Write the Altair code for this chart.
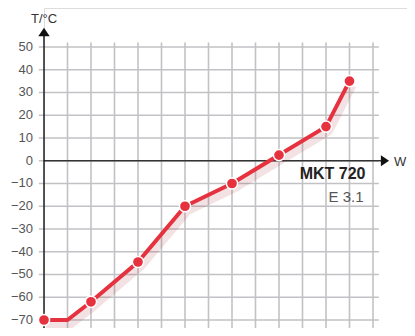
import altair as alt
import pandas as pd

# data
x_vals = [0, 1, 2, 4, 6, 8, 10, 12, 13]
t_vals = [-70, -70, -62, -44.5, -20, -10, 2.5, 15, 35]
has_marker = [True, False, True, True, True, True, True, True, True]
y_ticks = [50, 40, 30, 20, 10, 0, -10, -20, -30, -40, -50, -60, -70]
x_grid = list(range(1, 15))
model = "MKT 720"
edition = "E 3.1"
y_title = "T/°C"
x_title = "W"

xs = alt.Scale(domain=[0, 15.447], nice=False, zero=False)
YB, YT = -73.52, 67.14
ys = alt.Scale(domain=[YB, YT], nice=False, zero=False)
W, H = 363, 320
FONT = "Liberation Sans"

df = pd.DataFrame({"x": x_vals, "t": t_vals, "m": has_marker})
mk = df[df["m"]]

vgrid = pd.DataFrame({"x": x_grid, "y0": YB, "y1": 52})
hgrid = pd.DataFrame({"y": y_ticks, "x0": -0.22, "x1": 14.25})

vg = alt.Chart(vgrid).mark_rule(color="#c2c2c6", strokeWidth=1.6).encode(
    x=alt.X("x:Q", scale=xs, axis=None),
    y=alt.Y("y0:Q", scale=ys, axis=None),
    y2="y1:Q",
)
hg = alt.Chart(hgrid).mark_rule(color="#c2c2c6", strokeWidth=1.3).encode(
    y=alt.Y("y:Q", scale=ys, axis=None),
    x=alt.X("x0:Q", scale=xs, axis=None),
    x2="x1:Q",
)

yaxis_df = pd.DataFrame({"x": [0], "y0": [YB], "y1": [56]})
yaxis = alt.Chart(yaxis_df).mark_rule(color="#111", strokeWidth=1.4).encode(
    x=alt.X("x:Q", scale=xs, axis=None),
    y=alt.Y("y0:Q", scale=ys, axis=None),
    y2="y1:Q",
)
xaxis_df = pd.DataFrame({"y": [0], "x0": [0], "x1": [14.4]})
xaxis = alt.Chart(xaxis_df).mark_rule(color="#333", strokeWidth=1.3).encode(
    y=alt.Y("y:Q", scale=ys, axis=None),
    x=alt.X("x0:Q", scale=xs, axis=None),
    x2="x1:Q",
)

arrow_up = alt.Chart(pd.DataFrame({"x": [0], "y": [56.6]})).mark_point(
    shape="M-1,0.75L0,-0.75L1,0.75Z", filled=True, color="#111", opacity=1, size=130
).encode(x=alt.X("x:Q", scale=xs, axis=None), y=alt.Y("y:Q", scale=ys, axis=None))
arrow_right = alt.Chart(pd.DataFrame({"x": [14.51], "y": [0]})).mark_point(
    shape="M-0.75,-1L0.75,0L-0.75,1Z", filled=True, color="#111", opacity=1, size=120
).encode(x=alt.X("x:Q", scale=xs, axis=None), y=alt.Y("y:Q", scale=ys, axis=None))

yticks_df = pd.DataFrame({"y": y_ticks, "x": 0})
ylabels = alt.Chart(yticks_df).mark_text(
    align="right", baseline="middle", dx=-11, font=FONT, fontSize=13, color="#555"
).encode(
    x=alt.X("x:Q", scale=xs, axis=None),
    y=alt.Y("y:Q", scale=ys, axis=None),
    text=alt.Text("y:Q"),
)

texts = pd.DataFrame({
    "x": [0, 14.89, 13.68, 13.6],
    "y": [60.4, -2.2, -8.2, -18.2],
    "label": [y_title, x_title, model, edition],
})
t_ytitle = alt.Chart(texts.iloc[[0]]).mark_text(
    align="center", baseline="alphabetic", font=FONT, fontSize=13, color="#333"
).encode(x=alt.X("x:Q", scale=xs, axis=None), y=alt.Y("y:Q", scale=ys, axis=None), text="label:N")
t_xtitle = alt.Chart(texts.iloc[[1]]).mark_text(
    align="left", baseline="alphabetic", font=FONT, fontSize=13, color="#333"
).encode(x=alt.X("x:Q", scale=xs, axis=None), y=alt.Y("y:Q", scale=ys, axis=None), text="label:N")
t_model = alt.Chart(texts.iloc[[2]]).mark_text(
    align="right", baseline="alphabetic", font=FONT, fontSize=16, fontWeight="bold", color="#222"
).encode(x=alt.X("x:Q", scale=xs, axis=None), y=alt.Y("y:Q", scale=ys, axis=None), text="label:N")
t_ed = alt.Chart(texts.iloc[[3]]).mark_text(
    align="right", baseline="alphabetic", font=FONT, fontSize=15, color="#555"
).encode(x=alt.X("x:Q", scale=xs, axis=None), y=alt.Y("y:Q", scale=ys, axis=None), text="label:N")

shadow = alt.Chart(df).mark_line(
    color="#a0101a", strokeWidth=10, opacity=0.12, xOffset=2, yOffset=4, strokeJoin="round"
).encode(x=alt.X("x:Q", scale=xs, axis=None), y=alt.Y("t:Q", scale=ys, axis=None))
line = alt.Chart(df).mark_line(color="#e6323e", strokeWidth=4, strokeJoin="round").encode(
    x=alt.X("x:Q", scale=xs, axis=None), y=alt.Y("t:Q", scale=ys, axis=None)
)
pts = alt.Chart(mk).mark_point(
    shape="circle", filled=True, color="#e6323e", stroke="white", strokeWidth=1.5, opacity=1, size=125
).encode(x=alt.X("x:Q", scale=xs, axis=None), y=alt.Y("t:Q", scale=ys, axis=None))

chart = alt.layer(
    vg, hg, xaxis, yaxis, arrow_up, arrow_right, ylabels,
    t_ytitle, t_xtitle, t_model, t_ed, shadow, line, pts
).properties(
    width=W, height=H,
    autosize=alt.AutoSizeParams(type="none"),
    padding={"left": 36, "top": 0, "right": 0, "bottom": 0},
).configure_view(stroke=None).configure(background="white")

chart.save("out.html", embed_options={"renderer": "svg", "actions": False})
